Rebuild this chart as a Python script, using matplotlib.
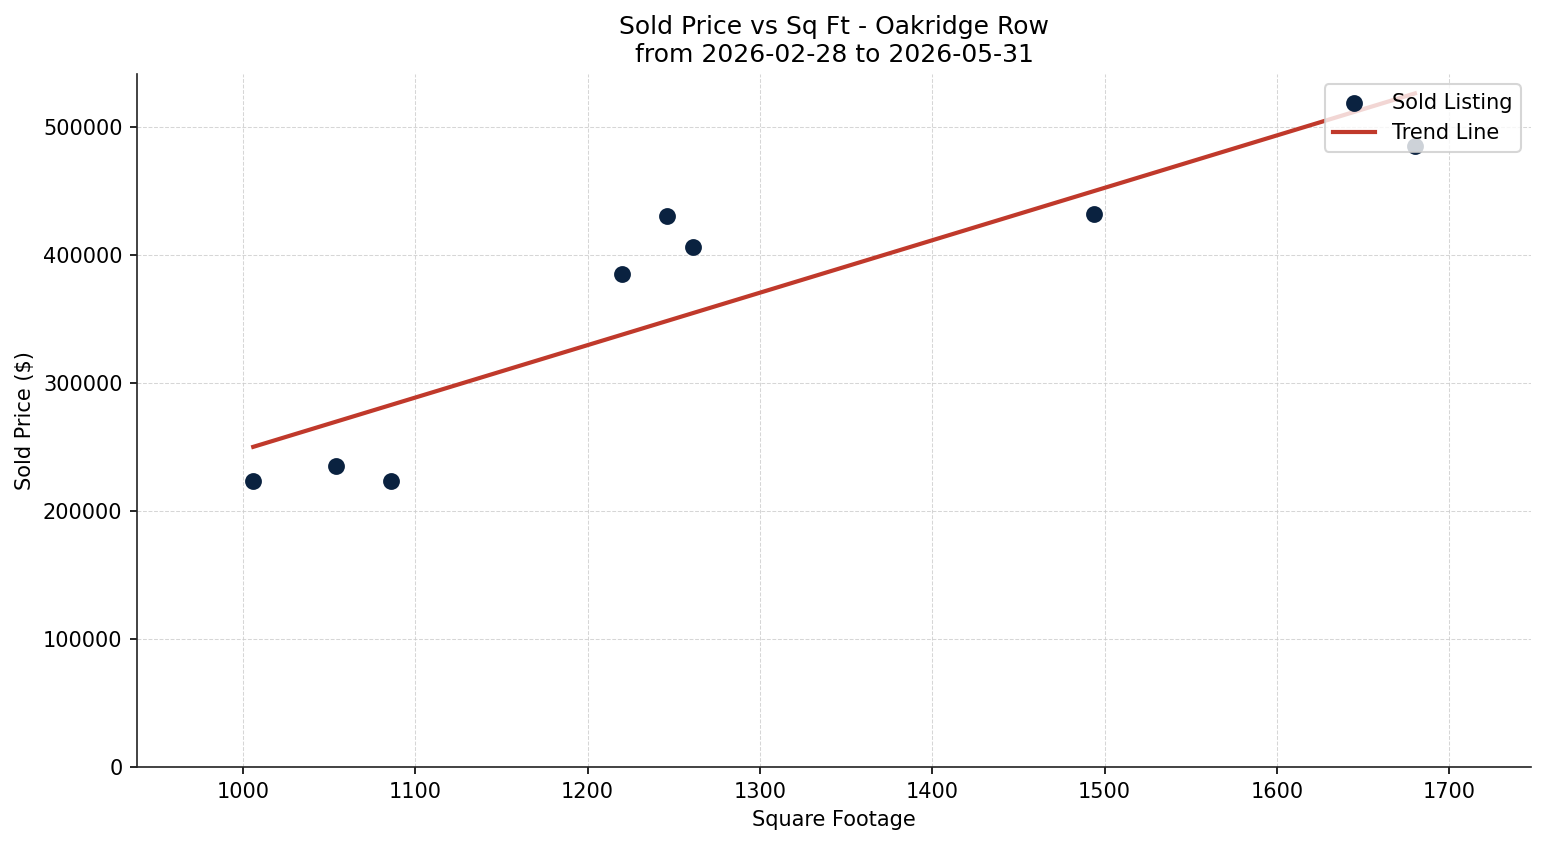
import numpy as np
import matplotlib
matplotlib.use("Agg")
import matplotlib.pyplot as plt

# sold listings, Oakridge Row
sqft = [1006, 1054, 1086, 1220, 1246, 1261, 1494, 1680]
price = [223000, 235000, 223000, 385000, 430000, 406000, 432000, 485000]
title = "Sold Price vs Sq Ft - Oakridge Row\nfrom 2026-02-28 to 2026-05-31"

DOT = "#0a2240"
TREND = "#c0392b"


def main():
    x = np.array(sqft, dtype=float)
    y = np.array(price, dtype=float)

    fig, ax = plt.subplots(figsize=(1547 / 150, 845 / 150), dpi=150)
    fig.subplots_adjust(left=0.0886, right=0.9897, top=0.9124, bottom=0.0923)

    ax.scatter(x, y, s=50, color=DOT, label="Sold Listing", zorder=3)

    # least squares trend over the sold range
    m, b = np.polyfit(x, y, 1)
    xs = np.array([x.min(), x.max()])
    ax.plot(xs, m * xs + b, color=TREND, linewidth=2, label="Trend Line", zorder=2)

    pad = (x.max() - x.min()) * 0.1
    ax.set_xlim(x.min() - pad, x.max() + pad)
    ax.set_ylim(bottom=0)

    ax.set_title(title, fontsize=12)
    ax.set_xlabel("Square Footage", fontsize=10)
    ax.set_ylabel("Sold Price ($)", fontsize=10)
    ax.ticklabel_format(style="plain", axis="y")

    ax.grid(True, linestyle="--", linewidth=0.5, color="#cccccc", alpha=0.8)
    ax.set_axisbelow(True)
    for s in ("top", "right"):
        ax.spines[s].set_visible(False)
    for s in ("left", "bottom"):
        ax.spines[s].set_color("#222222")

    ax.legend(loc="upper right")
    fig.savefig("out.png", dpi=150)


if __name__ == "__main__":
    main()
